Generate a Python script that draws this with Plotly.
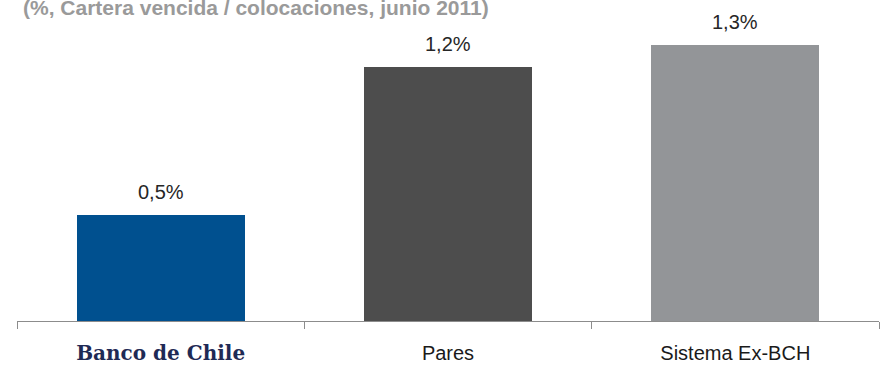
import plotly.graph_objects as go

categories = ["Banco de Chile", "Pares", "Sistema Ex-BCH"]
values = [0.5, 1.2, 1.3]
bar_colors = ["#00508F", "#4D4D4D", "#939598"]
tick_labels = [
    "<span style='font-family:DejaVu Serif;font-weight:bold;color:#1F2A55;font-size:20px'>Banco de Chile</span>",
    "Pares",
    "Sistema Ex-BCH",
]
title_text = "(%, Cartera vencida / colocaciones, junio 2011)"

fig = go.Figure(
    go.Bar(
        x=categories,
        y=values,
        marker=dict(color=bar_colors, line=dict(width=0)),
        width=0.585,
        hoverinfo="skip",
    )
)

# value labels above each bar
for cat, val in zip(categories, values):
    fig.add_annotation(
        x=cat, y=val, xref="x", yref="y",
        text=f"{val:.1f}%".replace(".", ","),
        showarrow=False, yanchor="middle", yshift=23,
        font=dict(family="Liberation Sans, Arial", size=20, color="#262626"),
    )

# subtitle at the top left
fig.add_annotation(
    x=0, y=1, xref="paper", yref="paper", xshift=4, yshift=-7,
    xanchor="left", yanchor="middle", text=f"<b>{title_text}</b>",
    showarrow=False,
    font=dict(family="Liberation Sans, Arial", size=21, color="#9A9A9A"),
)

fig.update_layout(
    width=885, height=371,
    margin=dict(l=17, r=6, t=0, b=50),
    paper_bgcolor="white", plot_bgcolor="white",
    showlegend=False,
    bargap=0,
    xaxis=dict(
        tickmode="array", tickvals=categories, ticktext=tick_labels,
        tickson="boundaries", ticks="outside", ticklen=7, tickcolor="#8C8C8C",
        showline=True, linecolor="#8C8C8C", linewidth=1,
        showgrid=False, zeroline=False, ticklabelstandoff=14,
        tickfont=dict(family="Liberation Sans, Arial", size=20, color="#1A1A1A"),
        fixedrange=True,
    ),
    yaxis=dict(
        range=[0, 321 / 212], visible=False, showgrid=False, zeroline=False,
        fixedrange=True,
    ),
)

fig.write_html("out.html", config={"displayModeBar": False})
